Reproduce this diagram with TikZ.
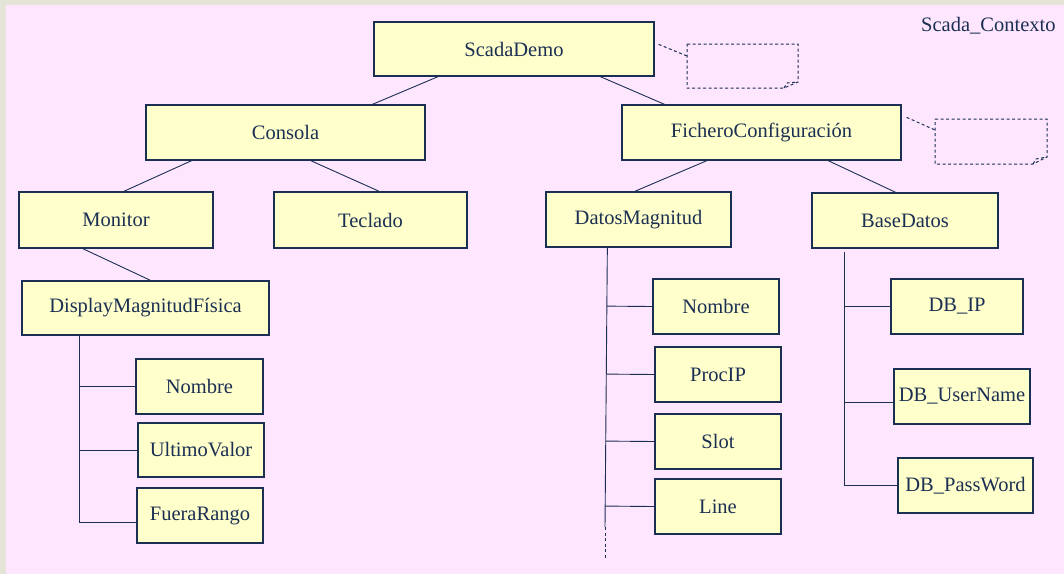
\documentclass[tikz,border=0pt]{standalone}
\usepackage{fontspec}
\setmainfont{Liberation Serif}
\usetikzlibrary{calc}
\definecolor{frame}{HTML}{E4E4D8}
\definecolor{paper}{HTML}{FFE6FF}
\definecolor{boxfill}{HTML}{FFFFCC}
\definecolor{ink}{HTML}{1B2F52}
\tikzset{
  cls/.style={draw=ink, line width=1.3pt, fill=boxfill, text=ink, inner sep=0pt,
    font=\fontsize{20.5}{24}\selectfont},
  link/.style={draw=ink, line width=0.9pt},
  notebox/.style={draw=ink, line width=1pt, dash pattern=on 3pt off 2.5pt},
  label/.style={text=ink, inner sep=0pt, font=\fontsize{20.5}{24}\selectfont}
}
% place a class box by its corners (x1,y1) (x2,y2), y pointing down
\newcommand\classbox[6]{%
  \node[cls, minimum width={#4-#2}, minimum height={#5-#3}]
    (#1) at ({(#2+#4)/2},{(#3+#5)/2}) {#6};}
\begin{document}
\begin{tikzpicture}[x=1pt,y=-1pt]
  \useasboundingbox (0,0) rectangle (1064,574);
  \fill[frame] (0,0) rectangle (1064,574);
  \fill[paper] (6,5) rectangle (1064,574);

  \node[label, anchor=base west] (title) at (921,31.7) {Scada\_Contexto};

  % class boxes
  \classbox{scada}{374}{22}{654}{76}{ScadaDemo}
  \classbox{consola}{146}{105}{425}{160}{Consola}
  \classbox{fichero}{622}{105}{901}{160}{FicheroConfiguración}
  \classbox{monitor}{19}{192}{213}{248}{Monitor}
  \classbox{teclado}{274}{192}{467}{248}{Teclado}
  \classbox{datos}{546}{192}{731}{247}{DatosMagnitud}
  \classbox{base}{812}{193}{998}{248}{BaseDatos}
  \classbox{display}{22}{281}{269}{335}{DisplayMagnitudFísica}
  \classbox{nomA}{136}{359}{263}{414}{Nombre}
  \classbox{ultimo}{138}{423}{264}{477}{UltimoValor}
  \classbox{fuera}{137}{488}{263}{543}{FueraRango}
  \classbox{nomB}{653}{279}{779}{334}{Nombre}
  \classbox{procip}{655}{347}{781}{402}{ProcIP}
  \classbox{slot}{655}{414}{781}{469}{Slot}
  \classbox{line}{655}{479}{781}{534}{Line}
  \classbox{dbip}{891}{279}{1023}{334}{DB\_IP}
  \classbox{dbuser}{894}{369}{1030}{424}{DB\_UserName}
  \classbox{dbpass}{898}{458}{1033}{513}{DB\_PassWord}

  % composition links between levels
  \draw[link] ($(scada.south west)!0.23!(scada.south east)$) -- ($(consola.north west)!0.81!(consola.north east)$);
  \draw[link] ($(scada.south west)!0.807!(scada.south east)$) -- ($(fichero.north west)!0.154!(fichero.north east)$);
  \draw[link] ($(consola.south west)!0.165!(consola.south east)$) -- ($(monitor.north west)!0.54!(monitor.north east)$);
  \draw[link] ($(consola.south west)!0.59!(consola.south east)$) -- ($(teclado.north west)!0.545!(teclado.north east)$);
  \draw[link] ($(fichero.south west)!0.305!(fichero.south east)$) -- ($(datos.north west)!0.48!(datos.north east)$);
  \draw[link] ($(fichero.south west)!0.738!(fichero.south east)$) -- ($(base.north west)!0.45!(base.north east)$);
  \draw[link] ($(monitor.south west)!0.33!(monitor.south east)$) -- ($(display.north west)!0.52!(display.north east)$);

  % attribute tree of DisplayMagnitudFisica
  \coordinate (tL) at ($(display.south west)+(58,0)$);
  \draw[link] (tL) |- ($(fuera.west)+(0,6.5)$);
  \draw[link] (nomA.west) -- (nomA.west -| tL);
  \draw[link] (ultimo.west) -- (ultimo.west -| tL);

  % attribute tree of DatosMagnitud
  \coordinate (tMa) at ($(datos.south west)+(62,0)$);
  \coordinate (tMb) at (605,527);
  \coordinate (tMc) at (605,558);
  \draw[link] (tMa) -- (tMb);
  \draw[link, dash pattern=on 3pt off 2.5pt] (tMb) -- (tMc);
  \draw[link] (nomB.west) -- ($(tMa)!(nomB.west)!(tMb)$);
  \draw[link] (procip.west) -- ($(tMa)!(procip.west)!(tMb)$);
  \draw[link] (slot.west) -- ($(tMa)!(slot.west)!(tMb)$);
  \draw[link] (line.west) -- ($(tMa)!(line.west)!(tMb)$);

  % attribute tree of BaseDatos
  \coordinate (tB) at ($(base.south west)+(33,3)$);
  \coordinate (uB) at ($(dbuser.west)+(0,5.5)$);
  \draw[link] (tB) |- (dbpass.west);
  \draw[link] (dbip.west) -- (dbip.west -| tB);
  \draw[link] (uB) -- (uB -| tB);

  % empty notes with a folded corner
  \coordinate (n1) at (687,44);
  \coordinate (n2) at (935,119);
  \draw[notebox] (n1) -- ++(111,0) -- ++(0,38) -- ++(-14,6) -- ++(-97,0) -- cycle;
  \draw[notebox] ($(n1)+(97,44)$) -- ++(3,-5) -- ++(11,-1);
  \draw[notebox] (n2) -- ++(112,0) -- ++(0,38) -- ++(-14,7) -- ++(-98,0) -- cycle;
  \draw[notebox] ($(n2)+(98,45)$) -- ++(3,-5) -- ++(11,-2);
  \draw[notebox] ($(scada.north east)+(4,23)$) -- ($(n1)+(0,12)$);
  \draw[notebox] ($(fichero.north east)+(5,13)$) -- ($(n2)+(0,11)$);
\end{tikzpicture}
\end{document}
